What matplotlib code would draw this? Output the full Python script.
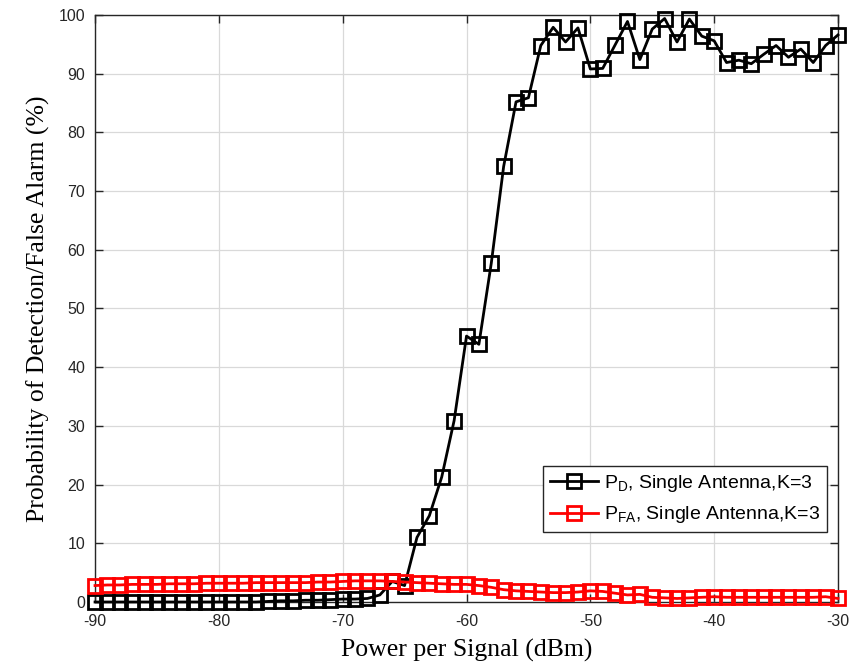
import numpy as np
import matplotlib
matplotlib.use("Agg")
import matplotlib.pyplot as plt

power_dbm = list(range(-90, -29))

pd_values = [0.0, 0.0, 0.0, 0.0, 0.0, 0.0, 0.0, 0.0, 0.0, 0.0,
             0.0, 0.0, 0.0, 0.0, 0.1, 0.2, 0.2, 0.3, 0.3, 0.4,
             0.5, 0.5, 0.6, 1.2, 3.5, 2.8, 11.0, 14.7, 21.3, 30.9,
             45.3, 43.9, 57.7, 74.2, 85.2, 85.9, 94.8, 97.9, 95.4, 97.8,
             90.8, 90.9, 94.9, 98.9, 92.4, 97.6, 99.4, 95.4, 99.3, 96.4,
             95.6, 91.9, 92.3, 91.7, 93.3, 94.8, 92.8, 94.2, 91.9, 94.8,
             96.6]

pfa_values = [2.8, 2.9, 2.9, 3.0, 3.0, 3.0, 3.1, 3.1, 3.1, 3.2,
              3.2, 3.2, 3.2, 3.3, 3.3, 3.3, 3.3, 3.3, 3.4, 3.4,
              3.5, 3.6, 3.6, 3.6, 3.5, 3.4, 3.3, 3.2, 3.1, 3.0,
              3.0, 2.8, 2.5, 2.1, 1.9, 1.8, 1.7, 1.6, 1.6, 1.7,
              1.9, 1.8, 1.5, 1.2, 1.3, 0.8, 0.7, 0.6, 0.7, 0.8,
              0.9, 0.8, 0.8, 0.8, 0.8, 0.8, 0.8, 0.8, 0.8, 0.9,
              0.6]

x_ticks = [-90, -80, -70, -60, -50, -40, -30]
y_ticks = [0, 10, 20, 30, 40, 50, 60, 70, 80, 90, 100]
label_pd = r'P$_{\mathrm{D}}$, Single Antenna,K=3'
label_pfa = r'P$_{\mathrm{FA}}$, Single Antenna,K=3'

plt.rcParams['font.family'] = ['Liberation Sans', 'DejaVu Sans']
plt.rcParams['mathtext.fontset'] = 'custom'
plt.rcParams['mathtext.rm'] = 'Liberation Sans'
plt.rcParams['mathtext.it'] = 'Liberation Sans:italic'
plt.rcParams['mathtext.default'] = 'regular'

fig = plt.figure(figsize=(8.53, 6.66), dpi=100)
ax = fig.add_axes([0.1114, 0.0961, 0.871, 0.8814])

ax.plot(power_dbm, pd_values, color='black', lw=2.0, marker='s', ms=10,
        mfc='none', mec='black', mew=2.0, label=label_pd, clip_on=False, zorder=4)
ax.plot(power_dbm, pfa_values, color='red', lw=2.0, marker='s', ms=10,
        mfc='none', mec='red', mew=2.0, label=label_pfa, clip_on=False, zorder=4)

ax.set_xlim(-90, -30)
ax.set_ylim(0, 100)
ax.set_xticks(x_ticks)
ax.set_yticks(y_ticks)
ax.set_xticklabels([str(v) for v in x_ticks])
ax.tick_params(direction='in', top=True, right=True, labelsize=11.5,
               length=6, width=1.0, colors='#262626')
ax.tick_params(axis='x', pad=9)
ax.tick_params(axis='y', pad=7)
ax.grid(True, color='#d9d9d9', lw=0.9)
ax.set_axisbelow(True)
for s in ax.spines.values():
    s.set_color('#262626')
    s.set_linewidth(1.0)
    s.set_zorder(3)

ax.set_xlabel('Power per Signal (dBm)', family='Liberation Serif', fontsize=18.5, labelpad=7)
ax.set_ylabel('Probability of Detection/False Alarm (%)', family='Liberation Serif', fontsize=18.5)
ax.yaxis.set_label_coords(-0.061, 0.5)

leg = ax.legend(loc='lower right', bbox_to_anchor=(0.985, 0.119), fontsize=14,
                frameon=True, fancybox=False, edgecolor='#262626', framealpha=1,
                handlelength=2.5, borderpad=0.35, labelspacing=0.55, handletextpad=0.3,
                borderaxespad=0)
leg.get_frame().set_linewidth(1.0)
leg.set_zorder(6)
for h in leg.legend_handles:
    h.set_markersize(10)

fig.savefig('out.png', dpi=100)
